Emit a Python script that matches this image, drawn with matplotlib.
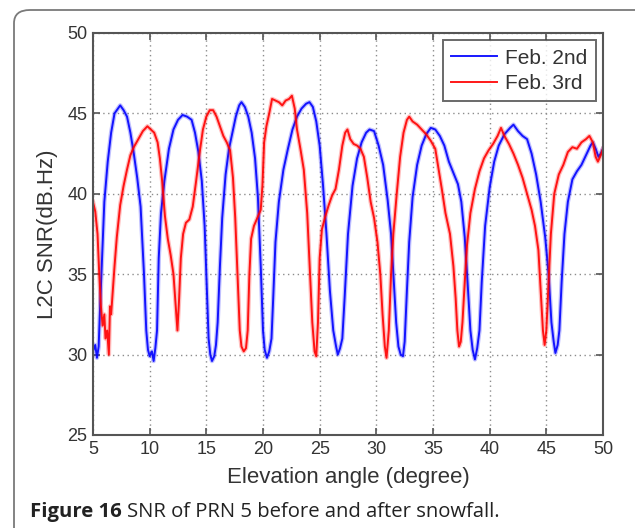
import matplotlib
matplotlib.use('Agg')
import matplotlib.pyplot as plt
from matplotlib.patches import FancyBboxPatch

# values (elevation in degree, SNR in dB.Hz)
feb2_x = [5.0, 5.2, 5.35, 5.5, 5.6, 5.8, 6.0, 6.3, 6.6, 6.9, 7.2, 7.4, 7.7, 8.0, 8.3, 8.6, 8.9, 9.2, 9.5, 9.7,
          9.85, 10.0, 10.2, 10.35, 10.5, 10.65, 10.8, 11.0, 11.3, 11.7, 12.1, 12.5, 12.9, 13.3, 13.7, 14.0, 14.3, 14.6, 14.85, 15.05,
          15.2, 15.35, 15.5, 15.7, 15.85, 16.0, 16.2, 16.4, 16.7, 17.0, 17.3, 17.6, 17.9, 18.1, 18.4, 18.7, 19.0, 19.3, 19.55, 19.8,
          20.0, 20.15, 20.35, 20.55, 20.75, 20.9, 21.1, 21.4, 21.8, 22.2, 22.6, 23.0, 23.4, 23.8, 24.1, 24.4, 24.7, 25.0, 25.3, 25.6,
          25.9, 26.2, 26.45, 26.6, 26.8, 27.0, 27.2, 27.5, 27.9, 28.3, 28.7, 29.1, 29.4, 29.8, 30.2, 30.6, 31.0, 31.3, 31.55, 31.75,
          31.95, 32.15, 32.35, 32.5, 32.7, 32.9, 33.2, 33.6, 34.0, 34.4, 34.8, 35.2, 35.6, 36.0, 36.4, 36.8, 37.2, 37.5, 37.8, 38.05,
          38.3, 38.5, 38.7, 38.9, 39.1, 39.3, 39.6, 40.0, 40.4, 40.8, 41.3, 41.8, 42.1, 42.5, 42.9, 43.3, 43.7, 44.1, 44.5, 44.9,
          45.2, 45.45, 45.65, 45.8, 46.0, 46.15, 46.35, 46.6, 46.9, 47.3, 47.7, 48.1, 48.5, 48.9, 49.1, 49.35, 49.6, 49.8, 50.0]
feb2_y = [30.2, 30.6, 29.8, 30.5, 32.5, 36, 39.5, 42, 43.8, 45, 45.3, 45.5, 45.2, 44.8, 43.8, 42.5, 41, 39.2, 35, 31.5,
          30.3, 29.9, 30.2, 29.6, 30.4, 31.5, 36, 38.8, 40.8, 42.8, 44, 44.6, 44.9, 44.8, 44.6, 43.8, 42.6, 40.8, 38, 34,
          31, 30, 29.6, 29.9, 30.6, 32, 35.5, 38.5, 41.2, 42.8, 43.8, 44.8, 45.5, 45.7, 45.4, 44.8, 43.8, 42.2, 39.8, 35.5,
          31.5, 30.3, 29.8, 30.2, 31, 33.5, 37, 39.5, 41.5, 42.8, 44, 44.8, 45.3, 45.6, 45.7, 45.4, 44.5, 43, 40.5, 37.5,
          34, 31.5, 30.5, 30, 30.4, 31, 33.5, 37.5, 40.5, 42.2, 43.2, 43.8, 44, 43.9, 43, 41.8, 39.6, 37.5, 34.5, 32,
          30.5, 30.0, 29.9, 30.8, 34, 37, 39.8, 41.8, 43, 43.7, 44.1, 44.0, 43.6, 43.0, 42.0, 41.3, 40.6, 39.5, 37.3, 34.5,
          31.5, 30.3, 29.7, 30.4, 31.5, 34.5, 38, 40.4, 42, 43, 43.7, 44.1, 44.3, 43.9, 43.6, 43.4, 42.5, 41.2, 39.5, 37.3,
          35, 32, 30.8, 30.1, 30.6, 31.5, 34.5, 37.5, 39.5, 40.9, 41.4, 41.8, 42.4, 43.0, 43.2, 42.8, 42.3, 42.5, 42.8]

feb3_x = [5.0, 5.2, 5.4, 5.55, 5.7, 5.85, 6.0, 6.1, 6.25, 6.4, 6.5, 6.6, 6.75, 6.9, 7.1, 7.4, 7.7, 8.0, 8.3, 8.6,
          9.0, 9.4, 9.8, 10.1, 10.4, 10.7, 10.9, 11.1, 11.35, 11.6, 11.85, 12.1, 12.3, 12.45, 12.6, 12.75, 12.95, 13.2, 13.5, 13.8,
          14.1, 14.4, 14.7, 15.0, 15.3, 15.6, 15.9, 16.2, 16.5, 16.8, 17.1, 17.35, 17.55, 17.75, 17.95, 18.1, 18.3, 18.5, 18.65, 18.8,
          18.95, 19.2, 19.5, 19.8, 19.95, 20.1, 20.3, 20.55, 20.8, 21.1, 21.4, 21.7, 22.0, 22.3, 22.55, 22.8, 23.0, 23.3, 23.6, 23.9,
          24.15, 24.35, 24.55, 24.7, 24.85, 25.0, 25.2, 25.5, 25.8, 26.1, 26.4, 26.7, 27.0, 27.25, 27.45, 27.7, 28.0, 28.3, 28.6, 28.9,
          29.2, 29.5, 29.8, 30.1, 30.35, 30.55, 30.75, 30.9, 31.1, 31.3, 31.5, 31.8, 32.1, 32.4, 32.7, 32.9, 33.2, 33.6, 34.0, 34.4,
          34.8, 35.2, 35.5, 35.8, 36.1, 36.5, 36.8, 37.0, 37.15, 37.3, 37.45, 37.6, 37.8, 38.0, 38.3, 38.7, 39.1, 39.5, 39.9, 40.3,
          40.7, 41.0, 41.3, 41.7, 42.1, 42.5, 42.9, 43.3, 43.7, 44.0, 44.3, 44.5, 44.7, 44.85, 45.0, 45.2, 45.4, 45.7, 46.1, 46.5,
          46.9, 47.3, 47.7, 48.1, 48.5, 48.8, 49.1, 49.35, 49.55, 49.8, 50.0]
feb3_y = [39.5, 38.9, 37.5, 35, 33, 31.8, 32.5, 31, 31.5, 30, 33, 32.5, 34, 35.5, 37.3, 39.3, 40.5, 41.5, 42.4, 42.9,
          43.4, 43.9, 44.2, 44.0, 43.8, 43.2, 42.2, 40.8, 38.6, 37.2, 36.2, 35, 33, 31.5, 33.5, 36, 37.5, 38.2, 38.4, 39.2,
          40.8, 42.5, 44, 44.8, 45.2, 45.2, 44.8, 44.2, 43.6, 43.2, 42.7, 41, 38.5, 35, 31.5, 30.5, 30.2, 30.4, 31.5, 35,
          37.2, 38, 38.5, 39, 40.5, 43.2, 44.2, 45, 45.9, 45.8, 45.7, 45.5, 45.8, 45.9, 46.1, 45.3, 44.0, 42.8, 41.5, 38.8,
          35, 32, 30.2, 29.9, 32, 36, 37.8, 38.6, 39.3, 39.9, 40.3, 41.5, 43, 43.8, 44, 43.4, 43.1, 43.0, 42.8, 42.3,
          41, 39.5, 38.5, 37, 35, 32.5, 30.5, 29.8, 31.5, 35, 37.5, 40, 42.3, 43.8, 44.6, 44.8, 44.5, 44.3, 44.0, 43.7,
          43.3, 42.8, 41.5, 40.2, 38.8, 37.5, 35.5, 33.5, 31.5, 30.5, 30.8, 32, 34.5, 36.8, 38.8, 40.3, 41.4, 42.2, 42.7, 43.1,
          43.6, 44.1, 43.6, 43.1, 42.5, 41.8, 41, 40, 39, 38, 36.5, 34, 31.5, 30.6, 31.5, 34.5, 37.5, 40, 41.2, 41.8,
          42.6, 42.9, 42.8, 43.2, 43.4, 43.6, 43.2, 42.3, 42.0, 42.4, 42.8]

x_ticks = [5, 10, 15, 20, 25, 30, 35, 40, 45, 50]
y_ticks = [25, 30, 35, 40, 45, 50]
labels = ['Feb. 2nd', 'Feb. 3rd']

plt.rcParams['font.family'] = ['Liberation Sans', 'DejaVu Sans']

fig = plt.figure(figsize=(6.35, 5.28), dpi=100)

# rounded frame around the figure (runs off right/bottom like the scan)
frame = FancyBboxPatch((14 / 635, -0.05), 1.1, 1 - 10 / 528 + 0.05,
                       boxstyle='round,pad=0,rounding_size=0.025',
                       transform=fig.transFigure, facecolor='none',
                       edgecolor='#7a7a7a', linewidth=1.3, zorder=0)
fig.patches.append(frame)

ax = fig.add_axes([93 / 635, 1 - 435 / 528, 510 / 635, 402 / 528])

for x, y, c, lab in [(feb2_x, feb2_y, '#0000ff', labels[0]), (feb3_x, feb3_y, '#ff0000', labels[1])]:
    ax.plot(x, y, color=c, lw=3.2, alpha=0.25, solid_joinstyle='round')
    ax.plot(x, y, color=c, lw=1.4, alpha=0.9, label=lab)

ax.set_xlim(5, 50)
ax.set_ylim(25, 50)
ax.set_xticks(x_ticks)
ax.set_yticks(y_ticks)
ax.grid(True, linestyle=(0, (1, 2.5)), color='#8c8c8c', linewidth=1.0)
ax.tick_params(direction='in', top=True, right=True, length=5, width=1.2,
               colors='#555555', labelcolor='#333333', labelsize=13, pad=4)
for s in ax.spines.values():
    s.set_color('#555555')
    s.set_linewidth(1.5)

ax.set_xlabel('Elevation angle (degree)', fontsize=16, color='#333333', labelpad=7)
ax.set_ylabel('L2C SNR(dB.Hz)', fontsize=16, color='#333333', labelpad=7)

leg = ax.legend(loc='upper right', fontsize=15, frameon=True, fancybox=False,
                borderaxespad=0.35, handlelength=2.2, handletextpad=0.4,
                labelspacing=0.3, borderpad=0.4)
leg.get_frame().set_edgecolor('#444444')
leg.get_frame().set_linewidth(1.4)
for t in leg.get_texts():
    t.set_color('#333333')

# caption: bold "Figure 16" followed by plain text
cap_y = 1 - 512 / 528
t1 = fig.text(30 / 635, cap_y, 'Figure 16', fontsize=14.6, fontweight='bold',
              family='Open Sans', color='#222222', va='center')
fig.canvas.draw()
bb = t1.get_window_extent()
fig.text((bb.x1 + 5) / 635, cap_y, 'SNR of PRN 5 before and after snowfall.', fontsize=14.6,
         family='Open Sans', color='#222222', va='center')

fig.savefig('out.png', dpi=100)
